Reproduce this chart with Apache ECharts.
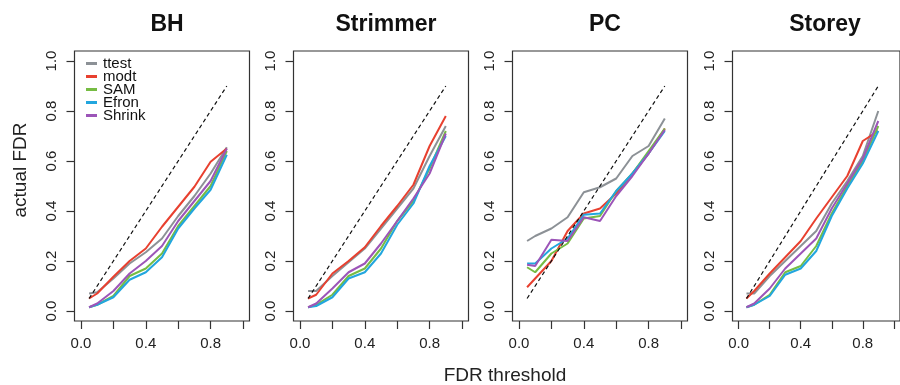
<!DOCTYPE html>
<html lang="en" style="height: 100%">
<head>
  <meta charset="utf-8">
</head>
<body style="height: 100%; margin: 0; background: #fff">
  <div id="container" style="width: 900px; height: 385px"></div>
  <script type="text/javascript" src="https://fastly.jsdelivr.net/npm/echarts@6.0.0/dist/echarts.min.js"></script>
  <script type="text/javascript">
    // FDR thresholds (x) and the methods, in legend order
    const thresholds = [0.05, 0.1, 0.2, 0.3, 0.4, 0.5, 0.6, 0.7, 0.8, 0.9];
    const methods = ['ttest', 'modt', 'SAM', 'Efron', 'Shrink'];
    const colors = ['#8c9196', '#e8402f', '#76bc43', '#22a6de', '#9c55b8'];
    const panels = ['BH', 'Strimmer', 'PC', 'Storey'];
    const diagonal = [0.05, 0.9];
    const xTicks = [0, 0.2, 0.4, 0.6, 0.8, 1.0];
    const xLabels = [0, 0.4, 0.8];
    const yTicks = [0, 0.2, 0.4, 0.6, 0.8, 1.0];

    // actual FDR per method (rows: ttest, modt, SAM, Efron, Shrink)
    const bh = [
      [0.07, 0.075, 0.13, 0.19, 0.235, 0.29, 0.38, 0.46, 0.55, 0.655],
      [0.05, 0.07, 0.137, 0.2, 0.25, 0.337, 0.417, 0.497, 0.597, 0.65],
      [0.015, 0.025, 0.06, 0.14, 0.17, 0.23, 0.34, 0.42, 0.5, 0.64],
      [0.015, 0.025, 0.055, 0.125, 0.155, 0.215, 0.33, 0.41, 0.485, 0.625],
      [0.015, 0.03, 0.08, 0.15, 0.2, 0.26, 0.36, 0.44, 0.52, 0.65]
    ];
    const strimmer = [
      [0.08, 0.08, 0.14, 0.195, 0.25, 0.33, 0.41, 0.49, 0.62, 0.74],
      [0.05, 0.065, 0.15, 0.2, 0.255, 0.34, 0.42, 0.505, 0.66, 0.78],
      [0.015, 0.025, 0.065, 0.14, 0.17, 0.25, 0.36, 0.44, 0.57, 0.72],
      [0.015, 0.02, 0.055, 0.13, 0.155, 0.23, 0.345, 0.43, 0.58, 0.7],
      [0.015, 0.03, 0.09, 0.155, 0.19, 0.27, 0.36, 0.45, 0.55, 0.71]
    ];
    const pc = [
      [0.28, 0.3, 0.33, 0.375, 0.475, 0.495, 0.53, 0.62, 0.66, 0.77],
      [0.095, 0.13, 0.2, 0.32, 0.39, 0.41, 0.47, 0.55, 0.63, 0.73],
      [0.175, 0.155, 0.23, 0.27, 0.37, 0.38, 0.48, 0.55, 0.64, 0.73],
      [0.19, 0.19, 0.25, 0.29, 0.385, 0.39, 0.48, 0.55, 0.63, 0.72],
      [0.185, 0.18, 0.285, 0.28, 0.375, 0.36, 0.46, 0.54, 0.63, 0.725]
    ];
    const storey = [
      [0.07, 0.07, 0.14, 0.2, 0.26, 0.32, 0.43, 0.52, 0.62, 0.8],
      [0.05, 0.08, 0.15, 0.215, 0.28, 0.37, 0.455, 0.54, 0.68, 0.72],
      [0.015, 0.025, 0.065, 0.155, 0.18, 0.26, 0.39, 0.5, 0.6, 0.74],
      [0.015, 0.025, 0.06, 0.145, 0.17, 0.24, 0.38, 0.49, 0.59, 0.72],
      [0.015, 0.03, 0.09, 0.17, 0.23, 0.29, 0.41, 0.51, 0.61, 0.76]
    ];
    const panelData = [bh, strimmer, pc, storey];

    const font = '"Liberation Sans", Arial, Helvetica, sans-serif';
    const gridLefts = [74.5, 293.5, 512.5, 732.5];
    const gridWidth = 175;

    var dom = document.getElementById('container');
    var myChart = echarts.init(dom, null, { renderer: 'canvas' });

    var grids = [], xAxes = [], yAxes = [], titles = [], series = [];
    panels.forEach(function (name, p) {
      grids.push({
        left: gridLefts[p], top: 51, width: gridWidth, height: 270,
        show: true, borderColor: '#333', borderWidth: 1.2, backgroundColor: '#fff'
      });
      titles.push({
        text: name,
        left: gridLefts[p] + gridWidth / 2,
        top: 8,
        textAlign: 'center',
        textStyle: { fontFamily: font, fontSize: 23, fontWeight: 'bold', color: '#111' }
      });
      xAxes.push({
        type: 'value', gridIndex: p, min: -0.04, max: 1.04,
        axisLine: { show: false, onZero: false },
        splitLine: { show: false },
        axisTick: { show: true, length: 8, customValues: xTicks, lineStyle: { color: '#333', width: 1.2 } },
        axisLabel: {
          customValues: xLabels, margin: 15, color: '#222',
          fontFamily: font, fontSize: 15,
          formatter: function (v) { return v.toFixed(1); }
        }
      });
      yAxes.push({
        type: 'value', gridIndex: p, min: -0.04, max: 1.04,
        axisLine: { show: false, onZero: false },
        splitLine: { show: false },
        axisTick: { show: true, length: 8, customValues: yTicks, lineStyle: { color: '#333', width: 1.2 } },
        axisLabel: {
          customValues: yTicks, rotate: 90, margin: 15, color: '#222',
          fontFamily: font, fontSize: 15,
          formatter: function (v) { return v.toFixed(1); }
        }
      });
      methods.forEach(function (m, k) {
        series.push({
          name: m, type: 'line', xAxisIndex: p, yAxisIndex: p,
          symbol: 'none', silent: true,
          data: thresholds.map(function (x, i) { return [x, panelData[p][k][i]]; }),
          lineStyle: { color: colors[k], width: 2 },
          itemStyle: { color: colors[k] }
        });
      });
      series.push({
        name: 'diagonal', type: 'line', xAxisIndex: p, yAxisIndex: p,
        symbol: 'none', silent: true,
        data: diagonal.map(function (v) { return [v, v]; }),
        lineStyle: { color: '#111', width: 1.2, type: [4, 3] }
      });
    });

    titles.push({
      text: 'FDR threshold',
      left: 500, top: 361, textAlign: 'center',
      textStyle: { fontFamily: font, fontSize: 19, fontWeight: 'normal', color: '#222' }
    });

    var option = {
      animation: false,
      backgroundColor: '#fff',
      title: titles,
      graphic: [{
        type: 'text',
        x: 21, y: 170,
        rotation: Math.PI / 2,
        style: {
          text: 'actual FDR', fill: '#222',
          font: '19px ' + font,
          textAlign: 'center', textVerticalAlign: 'middle'
        }
      }],
      legend: {
        data: methods,
        orient: 'vertical',
        left: 81, top: 51,
        itemGap: -2,
        itemWidth: 11, itemHeight: 3,
        icon: 'rect',
        selectedMode: false,
        textStyle: { fontFamily: font, fontSize: 15, lineHeight: 13, color: '#111', padding: [0, 0, 0, 1] }
      },
      grid: grids,
      xAxis: xAxes,
      yAxis: yAxes,
      series: series
    };

    myChart.setOption(option);
    window.addEventListener('resize', myChart.resize);
  </script>
</body>
</html>
